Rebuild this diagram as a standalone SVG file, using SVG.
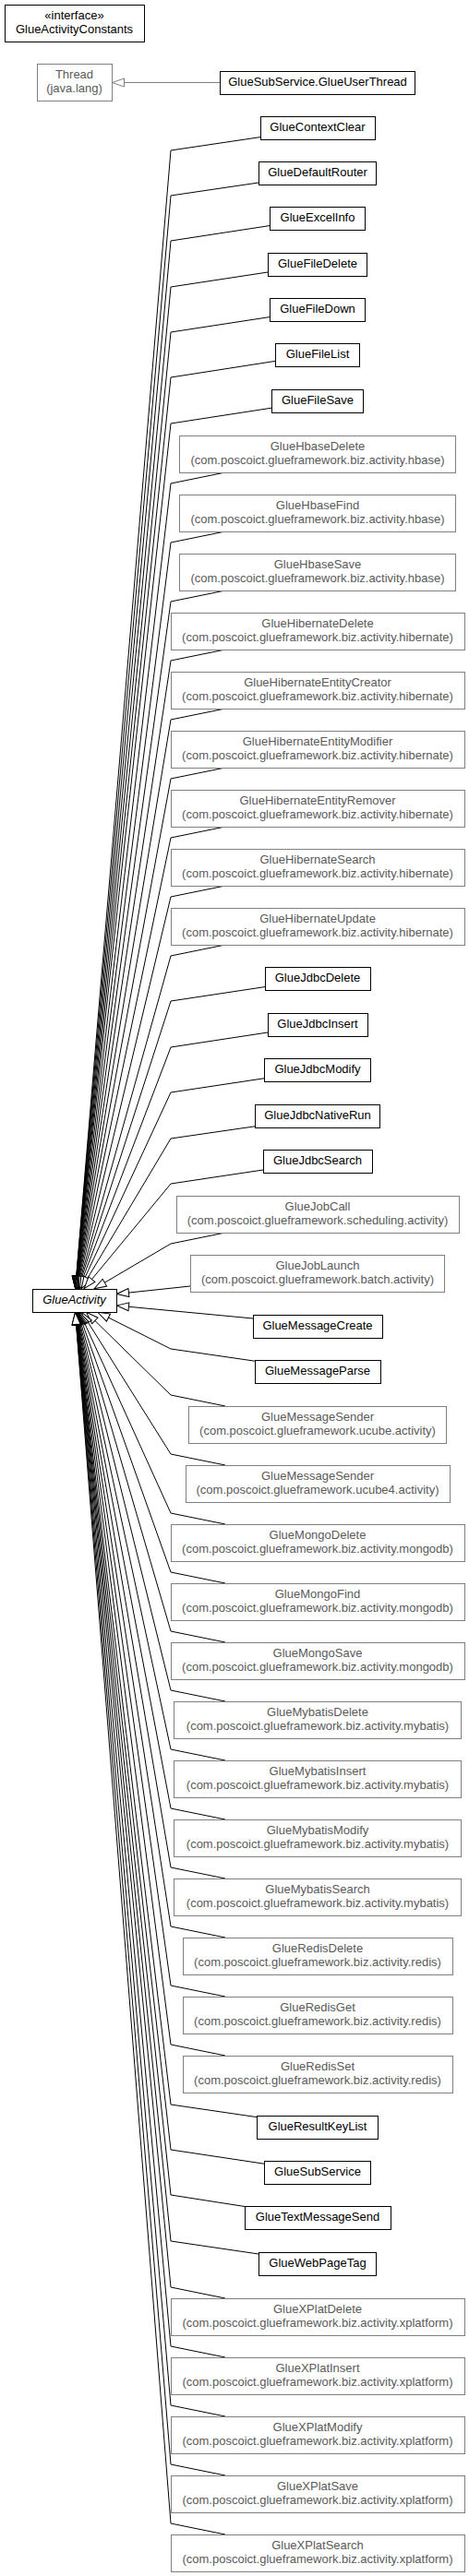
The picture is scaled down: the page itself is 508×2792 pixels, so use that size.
<svg xmlns="http://www.w3.org/2000/svg" width="508" height="2792" viewBox="0 0 508 2792">
<style>
.n{fill:#fff;stroke:#000;stroke-width:1}
.g{fill:#fff;stroke:#808080;stroke-width:1}
text{font-family:"Liberation Sans",Arial,Helvetica,sans-serif;font-size:13px;text-anchor:middle}
.t{fill:#000}
.tg{fill:#5a5a5a}
.i{font-style:italic}
.e{fill:none;stroke:#000;stroke-width:1;marker-end:url(#tri)}
.e2{fill:none;stroke:#808080;stroke-width:1;marker-end:url(#trig)}
</style>
<defs>
<marker id="tri" viewBox="-15 -6 16 12" refX="0" refY="0" markerWidth="16" markerHeight="12" markerUnits="userSpaceOnUse" orient="auto" overflow="visible"><path d="M-0.5,0 L-13.5,-4.5 L-13.5,4.5 Z" fill="#fff" stroke="#000" stroke-width="1"/></marker>
<marker id="trig" viewBox="-15 -6 16 12" refX="0" refY="0" markerWidth="16" markerHeight="12" markerUnits="userSpaceOnUse" orient="auto" overflow="visible"><path d="M-0.5,0 L-13.5,-4.5 L-13.5,4.5 Z" fill="#fff" stroke="#808080" stroke-width="1"/></marker>
</defs>
<rect width="508" height="2792" fill="#fff"/>
<g id="connectors">
<path class="e2" d="M238,89.5 L121,89.5"/>
<path class="e" d="M282,148.6 L185,163 L81.55,1397"/>
<path class="e" d="M280,198 L185,212 L81.59,1397"/>
<path class="e" d="M292,244.6 L185,261 L81.64,1397"/>
<path class="e" d="M290,295 L185,311 L81.69,1397"/>
<path class="e" d="M292,343.6 L185,360 L81.74,1397"/>
<path class="e" d="M298,391.4 L185,409 L81.81,1397"/>
<path class="e" d="M294,442.2 L185,459 L81.87,1397"/>
<path class="e" d="M244,512 L185,524 L81.98,1397"/>
<path class="e" d="M244,576 L185,588 L82.09,1397"/>
<path class="e" d="M244,640 L185,652 L82.22,1397"/>
<path class="e" d="M244,704 L185,716 L82.38,1397"/>
<path class="e" d="M244,768 L185,780 L82.58,1397"/>
<path class="e" d="M244,832 L185,844 L82.81,1397"/>
<path class="e" d="M244,896 L185,908 L83.1,1397"/>
<path class="e" d="M244,960 L185,972 L83.49,1397"/>
<path class="e" d="M244,1024 L185,1036 L84,1397"/>
<path class="e" d="M287,1069.6 L185,1085 L84.53,1397"/>
<path class="e" d="M290,1119 L185,1135 L85.26,1397"/>
<path class="e" d="M286,1168.8 L185,1184 L86.29,1397"/>
<path class="e" d="M276,1220.8 L185,1234 L87.94,1397"/>
<path class="e" d="M285,1268 L185,1283 L90.83,1397"/>
<path class="e" d="M244,1336 L185,1348 L101.74,1397"/>
<path class="e" d="M206,1394 L126,1402.5"/>
<path class="e" d="M274,1429 L126,1415"/>
<path class="e" d="M276,1475.2 L185,1462 L105.4,1422"/>
<path class="e" d="M244,1524 L185,1512 L93.24,1422"/>
<path class="e" d="M244,1588 L185,1576 L88.35,1422"/>
<path class="e" d="M244,1652 L185,1640 L86.17,1422"/>
<path class="e" d="M244,1716 L185,1704 L84.93,1422"/>
<path class="e" d="M244,1780 L185,1768 L84.14,1422"/>
<path class="e" d="M244,1844 L185,1832 L83.59,1422"/>
<path class="e" d="M244,1908 L185,1896 L83.18,1422"/>
<path class="e" d="M244,1972 L185,1960 L82.87,1422"/>
<path class="e" d="M244,2036 L185,2024 L82.63,1422"/>
<path class="e" d="M244,2100 L185,2088 L82.42,1422"/>
<path class="e" d="M244,2164 L185,2152 L82.26,1422"/>
<path class="e" d="M244,2228 L185,2216 L82.12,1422"/>
<path class="e" d="M278,2294.6 L185,2281 L82,1422"/>
<path class="e" d="M286,2345.2 L185,2330 L81.92,1422"/>
<path class="e" d="M265,2391.5 L185,2379 L81.85,1422"/>
<path class="e" d="M280,2443 L185,2429 L81.78,1422"/>
<path class="e" d="M244,2491 L185,2479 L81.72,1422"/>
<path class="e" d="M244,2555 L185,2543 L81.65,1422"/>
<path class="e" d="M244,2619 L185,2607 L81.59,1422"/>
<path class="e" d="M244,2683 L185,2671 L81.54,1422"/>
<path class="e" d="M244,2747 L185,2735 L81.49,1422"/>
</g>
<g id="GlueActivityConstants"><rect class="n" x="5.5" y="5.5" width="151" height="40"/><text class="t" x="80.5" y="21">«interface»</text><text class="t" x="80.5" y="36">GlueActivityConstants</text></g>
<g id="Thread"><rect class="g" x="40.5" y="69.5" width="81" height="40"/><text class="tg" x="80.5" y="85">Thread</text><text class="tg" x="80.5" y="100">(java.lang)</text></g>
<g id="GlueUserThread"><rect class="n" x="238.5" y="77.5" width="211" height="25"/><text class="t" x="344" y="93">GlueSubService.GlueUserThread</text></g>
<g id="GlueContextClear"><rect class="n" x="282.5" y="126.5" width="124" height="25"/><text class="t" x="344" y="142">GlueContextClear</text></g>
<g id="GlueDefaultRouter"><rect class="n" x="280.5" y="175.5" width="127" height="25"/><text class="t" x="344" y="191">GlueDefaultRouter</text></g>
<g id="GlueExcelInfo"><rect class="n" x="292.5" y="224.5" width="103" height="25"/><text class="t" x="344" y="240">GlueExcelInfo</text></g>
<g id="GlueFileDelete"><rect class="n" x="290.5" y="274.5" width="107" height="25"/><text class="t" x="344" y="290">GlueFileDelete</text></g>
<g id="GlueFileDown"><rect class="n" x="292.5" y="323.5" width="103" height="25"/><text class="t" x="344" y="339">GlueFileDown</text></g>
<g id="GlueFileList"><rect class="n" x="298.5" y="372.5" width="91" height="25"/><text class="t" x="344" y="388">GlueFileList</text></g>
<g id="GlueFileSave"><rect class="n" x="294.5" y="422.5" width="99" height="25"/><text class="t" x="344" y="438">GlueFileSave</text></g>
<g id="GlueHbaseDelete"><rect class="g" x="194.5" y="472.5" width="299" height="40"/><text class="tg" x="344" y="488">GlueHbaseDelete</text><text class="tg" x="344" y="503">(com.poscoict.glueframework.biz.activity.hbase)</text></g>
<g id="GlueHbaseFind"><rect class="g" x="194.5" y="536.5" width="299" height="40"/><text class="tg" x="344" y="552">GlueHbaseFind</text><text class="tg" x="344" y="567">(com.poscoict.glueframework.biz.activity.hbase)</text></g>
<g id="GlueHbaseSave"><rect class="g" x="194.5" y="600.5" width="299" height="40"/><text class="tg" x="344" y="616">GlueHbaseSave</text><text class="tg" x="344" y="631">(com.poscoict.glueframework.biz.activity.hbase)</text></g>
<g id="GlueHibernateDelete"><rect class="g" x="185.5" y="664.5" width="318" height="40"/><text class="tg" x="344" y="680">GlueHibernateDelete</text><text class="tg" x="344" y="695">(com.poscoict.glueframework.biz.activity.hibernate)</text></g>
<g id="GlueHibernateEntityCreator"><rect class="g" x="185.5" y="728.5" width="318" height="40"/><text class="tg" x="344" y="744">GlueHibernateEntityCreator</text><text class="tg" x="344" y="759">(com.poscoict.glueframework.biz.activity.hibernate)</text></g>
<g id="GlueHibernateEntityModifier"><rect class="g" x="185.5" y="792.5" width="318" height="40"/><text class="tg" x="344" y="808">GlueHibernateEntityModifier</text><text class="tg" x="344" y="823">(com.poscoict.glueframework.biz.activity.hibernate)</text></g>
<g id="GlueHibernateEntityRemover"><rect class="g" x="185.5" y="856.5" width="318" height="40"/><text class="tg" x="344" y="872">GlueHibernateEntityRemover</text><text class="tg" x="344" y="887">(com.poscoict.glueframework.biz.activity.hibernate)</text></g>
<g id="GlueHibernateSearch"><rect class="g" x="185.5" y="920.5" width="318" height="40"/><text class="tg" x="344" y="936">GlueHibernateSearch</text><text class="tg" x="344" y="951">(com.poscoict.glueframework.biz.activity.hibernate)</text></g>
<g id="GlueHibernateUpdate"><rect class="g" x="185.5" y="984.5" width="318" height="40"/><text class="tg" x="344" y="1000">GlueHibernateUpdate</text><text class="tg" x="344" y="1015">(com.poscoict.glueframework.biz.activity.hibernate)</text></g>
<g id="GlueJdbcDelete"><rect class="n" x="287.5" y="1048.5" width="114" height="25"/><text class="t" x="344" y="1064">GlueJdbcDelete</text></g>
<g id="GlueJdbcInsert"><rect class="n" x="290.5" y="1098.5" width="108" height="25"/><text class="t" x="344" y="1114">GlueJdbcInsert</text></g>
<g id="GlueJdbcModify"><rect class="n" x="286.5" y="1147.5" width="115" height="25"/><text class="t" x="344" y="1163">GlueJdbcModify</text></g>
<g id="GlueJdbcNativeRun"><rect class="n" x="276.5" y="1197.5" width="135" height="25"/><text class="t" x="344" y="1213">GlueJdbcNativeRun</text></g>
<g id="GlueJdbcSearch"><rect class="n" x="285.5" y="1246.5" width="118" height="25"/><text class="t" x="344" y="1262">GlueJdbcSearch</text></g>
<g id="GlueJobCall"><rect class="g" x="191.5" y="1296.5" width="306" height="40"/><text class="tg" x="344" y="1312">GlueJobCall</text><text class="tg" x="344" y="1327">(com.poscoict.glueframework.scheduling.activity)</text></g>
<g id="GlueJobLaunch"><rect class="g" x="206.5" y="1360.5" width="275" height="40"/><text class="tg" x="344" y="1376">GlueJobLaunch</text><text class="tg" x="344" y="1391">(com.poscoict.glueframework.batch.activity)</text></g>
<g id="GlueActivity"><rect class="n" x="35.5" y="1397.5" width="91" height="25"/><text class="t i" x="80.5" y="1413">GlueActivity</text></g>
<g id="GlueMessageCreate"><rect class="n" x="274.5" y="1425.5" width="140" height="25"/><text class="t" x="344" y="1441">GlueMessageCreate</text></g>
<g id="GlueMessageParse"><rect class="n" x="276.5" y="1474.5" width="136" height="25"/><text class="t" x="344" y="1490">GlueMessageParse</text></g>
<g id="GlueMessageSender_ucube"><rect class="g" x="204.5" y="1524.5" width="279" height="40"/><text class="tg" x="344" y="1540">GlueMessageSender</text><text class="tg" x="344" y="1555">(com.poscoict.glueframework.ucube.activity)</text></g>
<g id="GlueMessageSender_ucube4"><rect class="g" x="201.5" y="1588.5" width="286" height="40"/><text class="tg" x="344" y="1604">GlueMessageSender</text><text class="tg" x="344" y="1619">(com.poscoict.glueframework.ucube4.activity)</text></g>
<g id="GlueMongoDelete"><rect class="g" x="185.5" y="1652.5" width="318" height="40"/><text class="tg" x="344" y="1668">GlueMongoDelete</text><text class="tg" x="344" y="1683">(com.poscoict.glueframework.biz.activity.mongodb)</text></g>
<g id="GlueMongoFind"><rect class="g" x="185.5" y="1716.5" width="318" height="40"/><text class="tg" x="344" y="1732">GlueMongoFind</text><text class="tg" x="344" y="1747">(com.poscoict.glueframework.biz.activity.mongodb)</text></g>
<g id="GlueMongoSave"><rect class="g" x="185.5" y="1780.5" width="318" height="40"/><text class="tg" x="344" y="1796">GlueMongoSave</text><text class="tg" x="344" y="1811">(com.poscoict.glueframework.biz.activity.mongodb)</text></g>
<g id="GlueMybatisDelete"><rect class="g" x="188.5" y="1844.5" width="311" height="40"/><text class="tg" x="344" y="1860">GlueMybatisDelete</text><text class="tg" x="344" y="1875">(com.poscoict.glueframework.biz.activity.mybatis)</text></g>
<g id="GlueMybatisInsert"><rect class="g" x="188.5" y="1908.5" width="311" height="40"/><text class="tg" x="344" y="1924">GlueMybatisInsert</text><text class="tg" x="344" y="1939">(com.poscoict.glueframework.biz.activity.mybatis)</text></g>
<g id="GlueMybatisModify"><rect class="g" x="188.5" y="1972.5" width="311" height="40"/><text class="tg" x="344" y="1988">GlueMybatisModify</text><text class="tg" x="344" y="2003">(com.poscoict.glueframework.biz.activity.mybatis)</text></g>
<g id="GlueMybatisSearch"><rect class="g" x="188.5" y="2036.5" width="311" height="40"/><text class="tg" x="344" y="2052">GlueMybatisSearch</text><text class="tg" x="344" y="2067">(com.poscoict.glueframework.biz.activity.mybatis)</text></g>
<g id="GlueRedisDelete"><rect class="g" x="198.5" y="2100.5" width="292" height="40"/><text class="tg" x="344" y="2116">GlueRedisDelete</text><text class="tg" x="344" y="2131">(com.poscoict.glueframework.biz.activity.redis)</text></g>
<g id="GlueRedisGet"><rect class="g" x="198.5" y="2164.5" width="292" height="40"/><text class="tg" x="344" y="2180">GlueRedisGet</text><text class="tg" x="344" y="2195">(com.poscoict.glueframework.biz.activity.redis)</text></g>
<g id="GlueRedisSet"><rect class="g" x="198.5" y="2228.5" width="292" height="40"/><text class="tg" x="344" y="2244">GlueRedisSet</text><text class="tg" x="344" y="2259">(com.poscoict.glueframework.biz.activity.redis)</text></g>
<g id="GlueResultKeyList"><rect class="n" x="278.5" y="2293.5" width="131" height="25"/><text class="t" x="344" y="2309">GlueResultKeyList</text></g>
<g id="GlueSubService"><rect class="n" x="286.5" y="2342.5" width="115" height="25"/><text class="t" x="344" y="2358">GlueSubService</text></g>
<g id="GlueTextMessageSend"><rect class="n" x="265.5" y="2391.5" width="158" height="25"/><text class="t" x="344" y="2407">GlueTextMessageSend</text></g>
<g id="GlueWebPageTag"><rect class="n" x="280.5" y="2441.5" width="127" height="25"/><text class="t" x="344" y="2457">GlueWebPageTag</text></g>
<g id="GlueXPlatDelete"><rect class="g" x="185.5" y="2491.5" width="318" height="40"/><text class="tg" x="344" y="2507">GlueXPlatDelete</text><text class="tg" x="344" y="2522">(com.poscoict.glueframework.biz.activity.xplatform)</text></g>
<g id="GlueXPlatInsert"><rect class="g" x="185.5" y="2555.5" width="318" height="40"/><text class="tg" x="344" y="2571">GlueXPlatInsert</text><text class="tg" x="344" y="2586">(com.poscoict.glueframework.biz.activity.xplatform)</text></g>
<g id="GlueXPlatModify"><rect class="g" x="185.5" y="2619.5" width="318" height="40"/><text class="tg" x="344" y="2635">GlueXPlatModify</text><text class="tg" x="344" y="2650">(com.poscoict.glueframework.biz.activity.xplatform)</text></g>
<g id="GlueXPlatSave"><rect class="g" x="185.5" y="2683.5" width="318" height="40"/><text class="tg" x="344" y="2699">GlueXPlatSave</text><text class="tg" x="344" y="2714">(com.poscoict.glueframework.biz.activity.xplatform)</text></g>
<g id="GlueXPlatSearch"><rect class="g" x="185.5" y="2747.5" width="318" height="40"/><text class="tg" x="344" y="2763">GlueXPlatSearch</text><text class="tg" x="344" y="2778">(com.poscoict.glueframework.biz.activity.xplatform)</text></g>
</svg>
